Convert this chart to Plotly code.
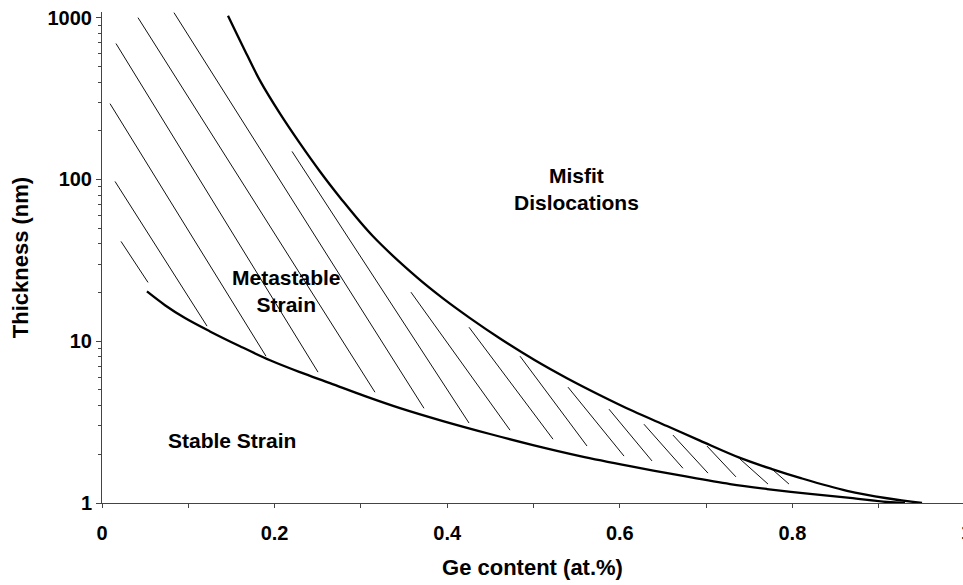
import numpy as np
import plotly.graph_objects as go

# Upper boundary (misfit dislocations onset)
upper_x = [0.1460, 0.1634, 0.1831, 0.2063, 0.2294, 0.2526, 0.2758, 0.3140, 0.3650, 0.3951,
           0.4264, 0.4612, 0.5017, 0.5388, 0.5771, 0.6153, 0.6547, 0.6929, 0.7393, 0.7764,
           0.8088, 0.8633, 0.9096, 0.9502]
upper_y = [1029, 662, 408, 255, 167, 112, 77.4, 44.5, 24.8, 18.4,
           13.9, 10.4, 7.63, 5.91, 4.64, 3.70, 2.99, 2.43, 1.90, 1.62,
           1.43, 1.19, 1.07, 1.0]

# Lower boundary (stable strain limit)
lower_x = [0.0521, 0.0730, 0.0962, 0.1251, 0.1599, 0.1947, 0.2294, 0.2642, 0.3048, 0.3453,
           0.3951, 0.4496, 0.4994, 0.5539, 0.6118, 0.6732, 0.7277, 0.7706, 0.8204, 0.8667,
           0.9096, 0.9305]
lower_y = [20.3, 16.7, 13.9, 11.5, 9.31, 7.63, 6.44, 5.51, 4.58, 3.86,
           3.21, 2.67, 2.28, 1.95, 1.69, 1.47, 1.31, 1.22, 1.137, 1.074,
           1.014, 1.0]

# Hatch segments in the metastable region (start -> end)
hatch_x0 = [0.0220, 0.0151, 0.0093, 0.0162, 0.0417, 0.0834, 0.2202, 0.358, 0.4253,
            0.4844, 0.540, 0.5875, 0.628, 0.6616, 0.701, 0.7393, 0.7752]
hatch_y0 = [41.4, 97.2, 294, 692, 1000, 1074, 149, 20.1, 12.2,
            8.08, 5.20, 3.80, 3.07, 2.63, 2.25, 1.87, 1.64]
hatch_x1 = [0.0533, 0.1217, 0.190, 0.2503, 0.3163, 0.3731, 0.4253, 0.4728, 0.5226,
            0.562, 0.6049, 0.6373, 0.6732, 0.7022, 0.7346, 0.7717, 0.796]
hatch_y1 = [23.1, 12.4, 8.08, 6.44, 4.84, 3.85, 3.12, 2.82, 2.48,
            2.25, 1.95, 1.82, 1.64, 1.53, 1.45, 1.31, 1.31]

region_labels = ["Misfit<br>Dislocations", "Metastable<br>Strain", "Stable Strain"]
region_x = [0.550, 0.2138, 0.1506]
region_y = [86.8, 20.4, 2.45]

x_ticks = [0, 0.2, 0.4, 0.6, 0.8]
x_ticklabels = ["0", "0.2", "0.4", "0.6", "0.8"]
y_ticks = [1, 10, 100, 1000]
y_ticklabels = ["1", "10", "100", "1000"]

FONT = "Arial, Liberation Sans, sans-serif"

hx, hy = [], []
for a, b, c, d in zip(hatch_x0, hatch_y0, hatch_x1, hatch_y1):
    hx += [a, c, None]
    hy += [b, d, None]

fig = go.Figure()
fig.add_trace(go.Scatter(x=hx, y=hy, mode="lines",
                         line=dict(color="#111111", width=1), hoverinfo="skip"))
fig.add_trace(go.Scatter(x=upper_x, y=upper_y, mode="lines",
                         line=dict(color="black", width=2.3, shape="spline", smoothing=1.0)))
fig.add_trace(go.Scatter(x=lower_x, y=lower_y, mode="lines",
                         line=dict(color="black", width=2.3, shape="spline", smoothing=1.0)))

for t, xv, yv in zip(region_labels, region_x, region_y):
    fig.add_annotation(x=xv, y=np.log10(yv), xref="x", yref="y", text="<b>%s</b>" % t,
                       showarrow=False, font=dict(family=FONT, size=21, color="black"),
                       align="center")

# "1" tick label at the right edge (cut off by the frame, as in the original)
fig.add_annotation(x=1.0, xref="paper", xanchor="left", xshift=-4, y=0, yref="paper",
                   yanchor="top", yshift=-16, text="<b>1</b>",
                   showarrow=False, font=dict(family=FONT, size=20, color="black"))

fig.update_layout(
    width=963, height=585,
    margin=dict(l=102, r=0, t=12, b=82),
    paper_bgcolor="white", plot_bgcolor="white",
    showlegend=False,
    xaxis=dict(range=[0, 0.9977], tickvals=x_ticks,
               ticktext=["<b>%s</b>" % s for s in x_ticklabels],
               ticks="outside", ticklen=4, tickcolor="#444", showgrid=False, zeroline=False,
               showline=True, linecolor="#444", linewidth=1, ticklabelstandoff=8,
               minor=dict(dtick=0.1, ticks="outside", ticklen=4, tickcolor="#444", showgrid=False),
               tickfont=dict(family=FONT, size=20, color="black"),
               title=dict(text="<b>Ge content (at.%)</b>", standoff=16,
                          font=dict(family=FONT, size=22, color="black"))),
    yaxis=dict(type="log", range=[0, 3.035], tickvals=y_ticks,
               ticktext=["<b>%s</b>" % s for s in y_ticklabels],
               ticks="outside", ticklen=5, tickcolor="#444", showgrid=False, zeroline=False,
               showline=True, linecolor="#444", linewidth=1,
               minor=dict(dtick="D1", ticks="outside", ticklen=3, tickcolor="#444", showgrid=False),
               tickfont=dict(family=FONT, size=20, color="black"),
               title=dict(text="<b>Thickness (nm)</b>", standoff=12,
                          font=dict(family=FONT, size=22, color="black"))),
)

fig.write_html("out.html")
